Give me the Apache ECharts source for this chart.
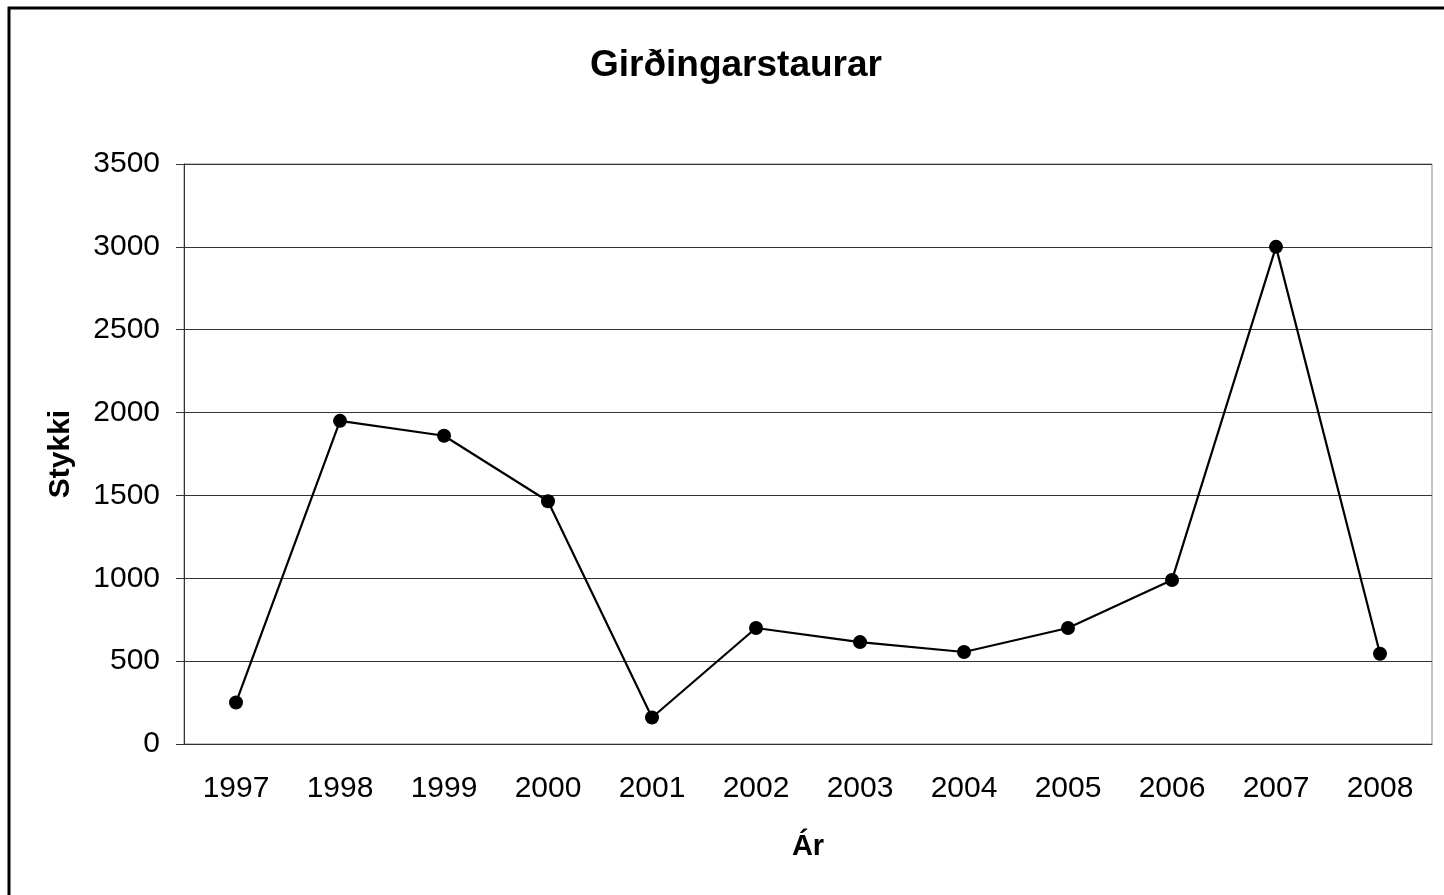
<!DOCTYPE html>
<html>
<head>
<meta charset="UTF-8">
<title>Girðingarstaurar</title>
<style>
  html, body { margin: 0; padding: 0; background: #fff; }
  #main { width: 1444px; height: 895px; }
</style>
</head>
<body>
<div id="main"></div>
<script src="https://cdn.jsdelivr.net/npm/echarts@6/dist/echarts.min.js"></script>
<script>
var years = ['1997', '1998', '1999', '2000', '2001', '2002', '2003', '2004', '2005', '2006', '2007', '2008'];
var stykki = [250, 1950, 1860, 1465, 160, 700, 615, 555, 700, 990, 3000, 545];

var font = 'Liberation Sans, Arial, sans-serif';
var chart = echarts.init(document.getElementById('main'));

chart.setOption({
    animation: false,
    graphic: [{
        type: 'rect',
        shape: { x: 9, y: 8, width: 1500, height: 1000 },
        style: { fill: 'none', stroke: '#000', lineWidth: 3 },
        silent: true
    }],
    title: {
        text: 'Girðingarstaurar',
        left: 585,
        top: 42,
        textStyle: { fontFamily: font, fontSize: 37, fontWeight: 'bold', color: '#000' }
    },
    grid: {
        left: 184, right: 12, top: 164, bottom: 151,
        show: true, borderColor: '#888', borderWidth: 1
    },
    xAxis: {
        type: 'category',
        data: years,
        boundaryGap: true,
        name: 'Ár',
        nameLocation: 'middle',
        nameGap: 88,
        nameTextStyle: { fontFamily: font, fontSize: 29, fontWeight: 'bold', color: '#000' },
        axisLine: { lineStyle: { color: '#333', width: 1 } },
        axisTick: { length: 8, lineStyle: { color: '#333' } },
        axisLabel: { margin: 30, fontFamily: font, fontSize: 30, color: '#000' }
    },
    yAxis: {
        type: 'value',
        min: 0, max: 3500, interval: 500,
        name: 'Stykki',
        nameLocation: 'middle',
        nameGap: 108,
        nameTextStyle: { fontFamily: font, fontSize: 30, fontWeight: 'bold', color: '#000' },
        axisLine: { show: true, lineStyle: { color: '#333', width: 1 } },
        axisTick: { show: true, length: 8, lineStyle: { color: '#333' } },
        axisLabel: {
            margin: 24, fontFamily: font, fontSize: 30, color: '#000',
            formatter: function (v) { return String(v); }
        },
        splitLine: { lineStyle: { color: '#333', width: 1 } }
    },
    series: [{
        type: 'line',
        data: stykki,
        symbol: 'circle',
        symbolSize: 14,
        lineStyle: { color: '#000', width: 2.2 },
        itemStyle: { color: '#000' }
    }]
});
</script>
</body>
</html>
